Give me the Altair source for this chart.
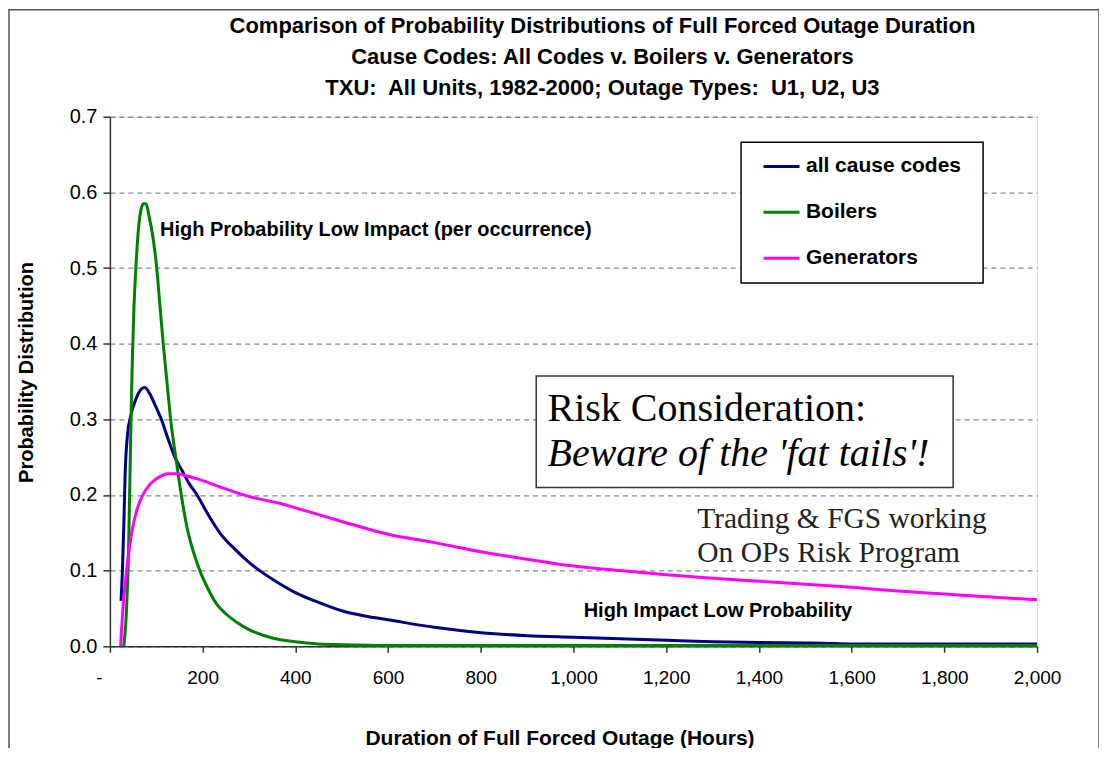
import altair as alt
import pandas as pd

# ---- series (hours, probability) ----
all_x = [24, 27, 30, 33, 38, 45, 55, 65, 75, 85, 98, 111, 125, 140, 155, 170, 188, 212, 237, 270, 300, 330,
         360, 400, 450, 500, 550, 600, 700, 800, 900, 1000, 1100, 1200, 1300, 1400, 1540, 1600, 1800, 2000]
all_y = [0.06, 0.10, 0.16, 0.23, 0.28, 0.305, 0.325, 0.338, 0.342, 0.335, 0.318, 0.30, 0.275, 0.25, 0.233, 0.216,
         0.20, 0.174, 0.15, 0.128, 0.111, 0.097, 0.085, 0.071, 0.058, 0.047, 0.04, 0.035, 0.025, 0.018, 0.014,
         0.012, 0.010, 0.008, 0.006, 0.005, 0.004, 0.003, 0.003, 0.003]

boil_x = [30, 36, 40, 44, 48, 52, 56, 60, 65, 72, 78, 84, 93, 101, 108, 115, 123, 131, 142, 154, 166, 180,
          194, 210, 230, 250, 275, 300, 350, 400, 450, 500, 600, 800, 1000, 1500, 2000]
boil_y = [0.0, 0.05, 0.12, 0.25, 0.37, 0.45, 0.50, 0.54, 0.57, 0.585, 0.585, 0.57, 0.54, 0.50, 0.45, 0.40,
          0.35, 0.30, 0.25, 0.20, 0.158, 0.125, 0.10, 0.078, 0.056, 0.043, 0.031, 0.022, 0.011, 0.006, 0.003,
          0.002, 0.001, 0.001, 0.001, 0.001, 0.001]

gen_x = [23, 29, 36, 47, 58, 71, 85, 97, 110, 125, 145, 160, 200, 250, 300, 366, 400, 500, 600, 700, 800,
         900, 1000, 1100, 1200, 1300, 1400, 1500, 1600, 1700, 1800, 1900, 2000]
gen_y = [0.0, 0.057, 0.10, 0.15, 0.18, 0.20, 0.213, 0.22, 0.225, 0.228, 0.228, 0.226, 0.219, 0.208, 0.198,
         0.189, 0.183, 0.165, 0.148, 0.137, 0.125, 0.115, 0.106, 0.10, 0.0945, 0.09, 0.086, 0.082, 0.078,
         0.073, 0.069, 0.065, 0.0615]

series_names = ["all cause codes", "Boilers", "Generators"]
series_colors = ["#000080", "#008000", "#FF00FF"]

x_ticks = [0, 200, 400, 600, 800, 1000, 1200, 1400, 1600, 1800, 2000]
y_ticks = [0.0, 0.1, 0.2, 0.3, 0.4, 0.5, 0.6, 0.7]

title_lines = [
    "Comparison of Probability Distributions of Full Forced Outage Duration",
    "Cause Codes: All Codes v. Boilers v. Generators",
    "TXU:\u00a0 All Units, 1982-2000; Outage Types:\u00a0 U1, U2, U3",
]

# annotations (data units)
bold_notes = ["High Probability Low Impact (per occurrence)", "High Impact Low Probability"]
bold_x = [108, 1022]
bold_y = [0.543, 0.0383]

risk_line1 = ["Risk Consideration:"]
risk_line2 = ["Beware of the 'fat tails'!"]
risk_x = [944]
risk_y1 = [0.2982]
risk_y2 = [0.2384]
box_x = [919.6]
box_x2 = [1819]
box_y = [0.3572]
box_y2 = [0.2098]

# legend frame (data units)
leg_x = [1361.5]
leg_x2 = [1883.6]
leg_y = [0.6663]
leg_y2 = [0.4803]

trade_notes = ["Trading & FGS working", "On OPs Risk Program"]
trade_x = [1267, 1267]
trade_y = [0.1566, 0.1118]

SANS = "Liberation Sans"
SERIF = "Liberation Serif"

rows = []
for name, xs, ys in [(series_names[0], all_x, all_y), (series_names[1], boil_x, boil_y),
                     (series_names[2], gen_x, gen_y)]:
    for xv, yv in zip(xs, ys):
        rows.append({"series": name, "hours": xv, "prob": yv})
df = pd.DataFrame(rows)

xscale = alt.Scale(domain=[0, 2000], nice=False, zero=True)
yscale = alt.Scale(domain=[0, 0.7], nice=False)

x_axis = alt.Axis(
    values=x_ticks, labelExpr="datum.value == 0 ? '-' : format(datum.value, ',')",
    labelFlush=False, labelOverlap=False, tickSize=6, labelPadding=16,
    labelFontSize=19, labelFont=SANS, labelColor="black",
    labelOffset={"condition": {"test": "datum.value == 0", "value": -11}, "value": 0},
    domainColor="#333", domainWidth=1.5, tickColor="#333", tickWidth=1.5, grid=False,
    title="Duration of Full Forced Outage (Hours)", titleFont=SANS, titleFontSize=21,
    titleFontWeight="bold", titleColor="black", titleX=450, titleY=92, titleBaseline="middle",
)
y_axis = alt.Axis(
    values=y_ticks, format=".1f", labelFlush=False, tickSize=7, labelPadding=6,
    labelFontSize=20, labelFont=SANS, labelColor="black",
    domainColor="#333", domainWidth=1.5, tickColor="#333", tickWidth=1.5,
    grid=True, gridColor="#888", gridDash=[5, 4], gridWidth=1.3,
    title="Probability Distribution", titleFont=SANS, titleFontSize=20, titleFontWeight="bold",
    titleColor="black", titleX=-83, titleY=255.5, titleBaseline="middle", titleAngle=270,
)

dummy = pd.DataFrame({"a": [0]})
frame = alt.Chart(dummy).mark_rect(fill=None, stroke="#555", strokeWidth=1.5).encode(
    x=alt.value(-101), x2=alt.value(990), y=alt.value(-107), y2=alt.value(700)
)

box_df = pd.DataFrame({"x": box_x, "x2": box_x2, "y": box_y, "y2": box_y2})
box = alt.Chart(box_df).mark_rect(fill="white", stroke="#333", strokeWidth=1.5).encode(
    x=alt.X("x:Q", scale=xscale), x2="x2:Q", y=alt.Y("y:Q", scale=yscale), y2="y2:Q"
)

leg_df = pd.DataFrame({"x": leg_x, "x2": leg_x2, "y": leg_y, "y2": leg_y2})
leg_box = alt.Chart(leg_df).mark_rect(fill="white", stroke="black", strokeWidth=1.5).encode(
    x=alt.X("x:Q", scale=xscale), x2="x2:Q", y=alt.Y("y:Q", scale=yscale), y2="y2:Q"
)

lines = alt.Chart(df).mark_line(strokeWidth=3, interpolate="monotone").encode(
    x=alt.X("hours:Q", scale=xscale, axis=x_axis),
    y=alt.Y("prob:Q", scale=yscale, axis=y_axis),
    color=alt.Color(
        "series:N",
        scale=alt.Scale(domain=series_names, range=series_colors),
        sort=series_names,
        legend=alt.Legend(
            title=None, orient="none", legendX=631.7, legendY=25.2, direction="vertical",
            padding=5, symbolType="stroke",
            symbolSize=1296, symbolStrokeWidth=3, symbolOffset=16, labelOffset=5,
            labelFontSize=21, labelFont=SANS, labelFontWeight="bold", labelColor="black",
            labelLimit=400, rowPadding=16,
        ),
    ),
    order=alt.Order("hours:Q"),
)

bold_df = pd.DataFrame({"t": bold_notes, "x": bold_x, "y": bold_y})
bold_text = alt.Chart(bold_df).mark_text(
    font=SANS, fontSize=20, fontWeight="bold", align="left", baseline="alphabetic", color="black"
).encode(x=alt.X("x:Q", scale=xscale), y=alt.Y("y:Q", scale=yscale), text="t:N")

r1_df = pd.DataFrame({"t": risk_line1, "x": risk_x, "y": risk_y1})
r1 = alt.Chart(r1_df).mark_text(
    font=SERIF, fontSize=40, align="left", baseline="alphabetic", color="black"
).encode(x=alt.X("x:Q", scale=xscale), y=alt.Y("y:Q", scale=yscale), text="t:N")

r2_df = pd.DataFrame({"t": risk_line2, "x": risk_x, "y": risk_y2})
r2 = alt.Chart(r2_df).mark_text(
    font=SERIF, fontSize=40, fontStyle="italic", align="left", baseline="alphabetic", color="black"
).encode(x=alt.X("x:Q", scale=xscale), y=alt.Y("y:Q", scale=yscale), text="t:N")

tr_df = pd.DataFrame({"t": trade_notes, "x": trade_x, "y": trade_y})
tr = alt.Chart(tr_df).mark_text(
    font=SERIF, fontSize=29.5, align="left", baseline="alphabetic", color="#222"
).encode(x=alt.X("x:Q", scale=xscale), y=alt.Y("y:Q", scale=yscale), text="t:N")

chart = alt.layer(frame, box, leg_box, lines, bold_text, r1, r2, tr).properties(
    width=928, height=530,
    autosize=alt.AutoSizeParams(type="none"),
    padding={"left": 102, "top": 108.5, "right": 62, "bottom": 101},
    title=alt.TitleParams(
        text=title_lines, font=SANS, fontSize=22, fontWeight="bold", color="black",
        lineHeight=31, offset=19, anchor="middle", dx=29, dy=109.5, frame="group",
    ),
).configure_view(stroke="#888", strokeWidth=1.2).configure(background="white")

chart.save("out.html", embed_options={"renderer": "svg", "actions": False})
